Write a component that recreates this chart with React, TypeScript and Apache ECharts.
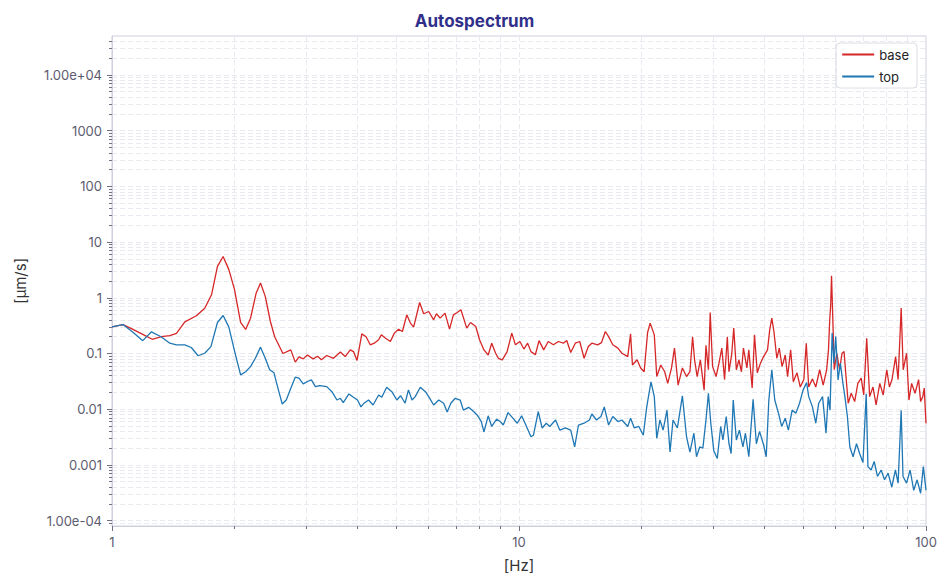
import React, { useEffect, useRef } from 'react';
import * as echarts from 'echarts';

// ---- data ----
const baseFreq = [
  1.0, 1.064, 1.126, 1.19, 1.256, 1.322, 1.387, 1.44, 1.51, 1.612, 1.69, 1.756, 1.816, 1.875, 1.937, 2.0,
  2.07, 2.13, 2.19, 2.26, 2.317, 2.38, 2.45, 2.51, 2.63, 2.75, 2.82, 2.88, 2.95, 3.02, 3.12, 3.2, 3.27,
  3.37, 3.5, 3.64, 3.74, 3.85, 3.92, 4.0, 4.11, 4.21, 4.31, 4.41, 4.52, 4.59, 4.7, 4.83, 4.94, 5.06, 5.17,
  5.3, 5.41, 5.51, 5.7, 5.83, 6.0, 6.17, 6.27, 6.4, 6.58, 6.75, 6.9, 7.05, 7.2, 7.44, 7.6, 7.83, 8.0, 8.2,
  8.4, 8.57, 8.76, 8.9, 9.1, 9.35, 9.6, 9.8, 10.05, 10.28, 10.5, 10.7, 10.97, 11.2, 11.5, 11.8, 12.15,
  12.5, 12.85, 13.1, 13.4, 13.75, 14.1, 14.45, 14.8, 15.1, 15.6, 15.95, 16.3, 16.6, 17.0, 17.5, 17.9,
  18.5, 18.8, 19.0, 19.5, 19.9, 20.3, 20.7, 21.0, 21.5, 21.8, 22.3, 22.8, 23.2, 23.7, 24.1, 24.6, 25.2,
  25.8, 26.3, 26.7, 27.0, 27.4, 27.9, 28.5, 28.8, 29.2, 29.5, 29.9, 30.5, 31.0, 31.5, 32.0, 32.2, 32.5,
  32.8, 33.3, 33.7, 34.2, 34.7, 35.2, 35.6, 36.3, 36.7, 37.4, 37.9, 38.5, 39.2, 39.9, 40.8, 41.3, 41.8,
  42.3, 43.0, 43.6, 44.3, 45.1, 45.7, 46.5, 47.2, 48.2, 49.1, 50.1, 50.8, 51.5, 52.6, 53.6, 54.8, 55.9,
  57.0, 57.6, 58.0, 58.3, 58.6, 59.0, 59.5, 60.4, 61.3, 62.2, 62.9, 63.6, 64.4, 65.5, 66.8, 68.0, 69.3,
  70.3, 71.5, 72.7, 74.1, 75.4, 77.0, 78.5, 80.1, 81.3, 82.5, 84.2, 85.4, 86.9, 87.9, 89.6, 90.8, 92.2,
  94.0, 95.9, 97.0, 98.2, 99.0, 100.0,
];
const baseVal = [
  0.3, 0.33, 0.27, 0.22, 0.18, 0.2, 0.21, 0.23, 0.37, 0.475, 0.65, 1.13, 3.66, 5.5, 3.2, 1.4,
  0.36, 0.27, 0.43, 1.21, 1.84, 1.06, 0.375, 0.2, 0.1, 0.116, 0.07, 0.087, 0.08, 0.094, 0.08, 0.089, 0.077,
  0.092, 0.082, 0.106, 0.088, 0.116, 0.108, 0.075, 0.225, 0.2, 0.143, 0.153, 0.176, 0.216, 0.188, 0.164, 0.232, 0.273, 0.248,
  0.494, 0.351, 0.297, 0.823, 0.516, 0.567, 0.402, 0.516, 0.431, 0.53, 0.273, 0.494, 0.545, 0.608, 0.285, 0.36, 0.305, 0.176, 0.116,
  0.094, 0.153, 0.101, 0.082, 0.077, 0.108, 0.232, 0.143, 0.164, 0.12, 0.153, 0.108, 0.095, 0.17, 0.116, 0.164, 0.143,
  0.164, 0.153, 0.171, 0.104, 0.153, 0.164, 0.082, 0.133, 0.153, 0.143, 0.157, 0.248, 0.201, 0.143, 0.125, 0.101,
  0.088, 0.225, 0.062, 0.077, 0.055, 0.047, 0.238, 0.351, 0.216, 0.0385, 0.062, 0.047, 0.029, 0.055, 0.125, 0.027, 0.055,
  0.0385, 0.047, 0.2, 0.077, 0.0385, 0.077, 0.022, 0.14, 0.051, 0.545, 0.058, 0.0385, 0.067, 0.125, 0.034, 0.071, 0.2,
  0.047, 0.094, 0.285, 0.051, 0.077, 0.047, 0.125, 0.055, 0.116, 0.024, 0.216, 0.045, 0.067, 0.088, 0.116, 0.266, 0.43,
  0.248, 0.082, 0.125, 0.058, 0.094, 0.0385, 0.116, 0.031, 0.045, 0.025, 0.034, 0.153, 0.025, 0.035, 0.025, 0.051, 0.027,
  0.051, 0.116, 0.4, 0.7, 2.49, 0.46, 0.051, 0.101, 0.051, 0.101, 0.108, 0.0385, 0.0128, 0.0193, 0.0137, 0.029, 0.036,
  0.018, 0.188, 0.0168, 0.025, 0.0119, 0.029, 0.018, 0.051, 0.025, 0.034, 0.088, 0.034, 0.653, 0.051, 0.101, 0.0146, 0.029,
  0.0193, 0.034, 0.0137, 0.0168, 0.024, 0.0056,
];
const topFreq = [
  1.0, 1.064, 1.126, 1.19, 1.25, 1.32, 1.387, 1.44, 1.51, 1.566, 1.628, 1.69, 1.75, 1.816, 1.875, 1.937, 1.997,
  2.07, 2.13, 2.19, 2.25, 2.317, 2.38, 2.44, 2.5, 2.57, 2.62, 2.68, 2.75, 2.82, 2.88, 2.95, 3.02, 3.09, 3.16, 3.24,
  3.37, 3.47, 3.57, 3.64, 3.7, 3.82, 3.92, 4.01, 4.09, 4.16, 4.27, 4.38, 4.52, 4.6, 4.73, 4.87, 5.01, 5.12, 5.25,
  5.35, 5.46, 5.56, 5.72, 5.89, 6.0, 6.17, 6.35, 6.53, 6.66, 6.8, 6.97, 7.17, 7.3, 7.52, 7.7, 7.9, 8.08, 8.2, 8.4,
  8.57, 8.81, 9.0, 9.15, 9.4, 9.66, 9.9, 10.15, 10.35, 10.7, 10.85, 11.15, 11.4, 11.67, 11.9, 12.3, 12.6, 13.0,
  13.4, 13.7, 14.0, 14.45, 14.9, 15.1, 15.5, 15.9, 16.2, 16.6, 17.0, 17.5, 17.9, 18.5, 18.8, 19.2, 19.7, 20.2,
  20.6, 21.1, 21.5, 21.8, 22.2, 22.6, 23.1, 23.5, 23.9, 24.5, 25.2, 25.8, 26.3, 26.9, 27.3, 27.8, 28.3, 28.8,
  29.2, 29.6, 30.1, 30.7, 31.3, 31.7, 32.3, 32.8, 33.2, 33.6, 34.2, 34.8, 35.5, 36.0, 36.7, 37.6, 38.3, 39.0,
  39.9, 40.5, 41.1, 41.8, 42.5, 43.4, 44.2, 45.1, 45.9, 46.9, 47.9, 48.9, 49.9, 50.9, 51.5, 52.6, 53.6, 54.5,
  55.7, 56.8, 57.5, 58.1, 58.8, 59.4, 60.0, 60.8, 61.6, 62.5, 63.2, 64.1, 65.0, 66.2, 67.5, 68.7, 70.0, 71.3,
  72.0, 73.3, 74.6, 76.0, 77.6, 79.1, 80.7, 82.4, 84.1, 85.4, 86.9, 87.8, 89.6, 91.4, 93.3, 95.1, 97.0, 98.5, 100.0,
];
const topVal = [
  0.3, 0.33, 0.24, 0.17, 0.245, 0.2, 0.153, 0.143, 0.143, 0.128, 0.091, 0.101, 0.133, 0.36, 0.48, 0.297, 0.116,
  0.0413, 0.047, 0.058, 0.082, 0.13, 0.082, 0.051, 0.045, 0.0206, 0.0124, 0.0146, 0.0237, 0.0375, 0.036, 0.0284, 0.0314, 0.0336, 0.0254, 0.0264,
  0.0254, 0.0206, 0.0146, 0.0157, 0.0131, 0.0188, 0.0164, 0.0146, 0.011, 0.0128, 0.0146, 0.0119, 0.018, 0.0164, 0.0248, 0.0206, 0.0146, 0.0174, 0.0128,
  0.0222, 0.0146, 0.0168, 0.0248, 0.0206, 0.0168, 0.0119, 0.0146, 0.0128, 0.0089, 0.0128, 0.0157, 0.0146, 0.0096, 0.0108, 0.0094, 0.0078, 0.006, 0.0039, 0.0076,
  0.0049, 0.0066, 0.006, 0.0052, 0.0087, 0.0069, 0.0056, 0.0076, 0.0056, 0.0032, 0.0034, 0.009, 0.0046, 0.0056, 0.0049, 0.0064, 0.0042, 0.0046,
  0.0042, 0.0021, 0.0052, 0.0056, 0.0064, 0.0082, 0.0064, 0.0074, 0.011, 0.0052, 0.0074, 0.006, 0.0064, 0.0049, 0.0069, 0.0046, 0.0049, 0.0034,
  0.011, 0.031, 0.0168, 0.003, 0.0064, 0.0042, 0.0096, 0.0017, 0.0064, 0.0046, 0.0174, 0.0032, 0.0017, 0.0037, 0.0014, 0.0021, 0.002, 0.0064,
  0.0193, 0.0056, 0.0018, 0.0013, 0.0049, 0.0028, 0.0074, 0.0024, 0.0016, 0.0146, 0.0028, 0.0042, 0.0021, 0.0037, 0.0014, 0.015, 0.0024, 0.004,
  0.0023, 0.0014, 0.0146, 0.051, 0.0146, 0.0085, 0.0049, 0.0069, 0.0042, 0.0096, 0.0085, 0.0128, 0.0222, 0.03, 0.0168, 0.011, 0.0056, 0.0128,
  0.0168, 0.0037, 0.0168, 0.0096, 0.232, 0.067, 0.201, 0.0336, 0.067, 0.0291, 0.0168, 0.0074, 0.0021, 0.0014, 0.0024, 0.0016, 0.0011, 0.019,
  0.00093, 0.00081, 0.00115, 0.00062, 0.00081, 0.00054, 0.00071, 0.0004, 0.00081, 0.00047, 0.0096, 0.00062, 0.00047, 0.00081, 0.00035, 0.00054, 0.00031, 0.00093, 0.00035,
];

const yMajorTicks = [1e-4, 0.001, 0.01, 0.1, 1, 10, 100, 1000, 1e4];
const yMinorTicks = [
  9e-5,
  2e-4, 3e-4, 4e-4, 5e-4, 6e-4, 7e-4, 8e-4, 9e-4,
  0.002, 0.003, 0.004, 0.005, 0.006, 0.007, 0.008, 0.009,
  0.02, 0.03, 0.04, 0.05, 0.06, 0.07, 0.08, 0.09,
  0.2, 0.3, 0.4, 0.5, 0.6, 0.7, 0.8, 0.9,
  2, 3, 4, 5, 6, 7, 8, 9,
  20, 30, 40, 50, 60, 70, 80, 90,
  200, 300, 400, 500, 600, 700, 800, 900,
  2000, 3000, 4000, 5000, 6000, 7000, 8000, 9000,
  20000, 30000, 40000,
];
const xMajorTicks = [1, 10, 100];
const xMinorTicks = [2, 3, 4, 5, 6, 7, 8, 9, 20, 30, 40, 50, 60, 70, 80, 90];

const Y_MIN = 8e-5;
const Y_MAX = 5e4;

function fmtY(v: number): string {
  const e = Math.round(Math.log10(v));
  if (e >= 4 || e <= -4) {
    const m = v / Math.pow(10, e);
    return `${m.toFixed(2)}e${e < 0 ? '-' : '+'}${String(Math.abs(e)).padStart(2, '0')}`;
  }
  return String(Number(v.toPrecision(6)));
}
function fmtX(v: number): string {
  return String(Number(v.toPrecision(6)));
}

const FONT = 'Inter, "Noto Sans", sans-serif';
const gridLine = { show: true, lineStyle: { color: '#e9e9f0', width: 1, type: [5, 3] as any } };
const tickColor = '#707080';
const axisColor = '#cfcfe0';

export default function App() {
  const ref = useRef<HTMLDivElement>(null);
  useEffect(() => {
    if (!ref.current) return;
    const chart = echarts.init(ref.current, undefined, { renderer: 'svg' });
    const baseData = baseFreq.map((f, i) => [f, baseVal[i]]);
    const topData = topFreq.map((f, i) => [f, topVal[i]]);
    chart.setOption({
      animation: false,
      backgroundColor: '#ffffff',
      textStyle: { fontFamily: FONT },
      title: {
        text: 'Autospectrum',
        left: 'center',
        top: 7,
        textStyle: { fontFamily: FONT, fontSize: 17, fontWeight: 'bold', color: '#30308a' },
      },
      legend: {
        orient: 'vertical',
        right: 32,
        top: 43,
        data: ['base', 'top'],
        itemWidth: 32,
        itemHeight: 14,
        itemGap: 9,
        padding: [5, 8, 5, 5],
        backgroundColor: '#ffffff',
        borderColor: '#dcdce6',
        borderWidth: 1,
        borderRadius: 4,
        itemStyle: { opacity: 0 },
        textStyle: { fontFamily: FONT, fontSize: 13, color: '#222' },
      },
      grid: {
        left: 112,
        right: 23,
        top: 36,
        bottom: 61,
        show: true,
        borderColor: axisColor,
        borderWidth: 1,
        backgroundColor: 'transparent',
      },
      xAxis: [
        {
          type: 'log',
          logBase: 10,
          min: 1,
          max: 100,
          position: 'bottom',
          name: '[Hz]',
          nameLocation: 'middle',
          nameGap: 32,
          nameTextStyle: { fontFamily: FONT, fontSize: 15, color: '#333' },
          axisLine: { show: true, lineStyle: { color: axisColor } },
          axisTick: { show: true, length: 5, customValues: xMajorTicks, lineStyle: { color: tickColor } },
          axisLabel: { customValues: xMajorTicks, formatter: fmtX, color: '#5c5c70', fontSize: 13, margin: 9 },
          splitLine: gridLine,
        },
        {
          type: 'log',
          logBase: 10,
          min: 1,
          max: 100,
          position: 'bottom',
          axisLine: { show: false },
          axisTick: { show: true, length: 3, customValues: xMinorTicks, lineStyle: { color: tickColor } },
          axisLabel: { show: false },
          splitLine: gridLine,
        },
      ],
      yAxis: [
        {
          type: 'log',
          logBase: 10,
          min: Y_MIN,
          max: Y_MAX,
          position: 'left',
          name: '[μm/s]',
          nameLocation: 'middle',
          nameGap: 84,
          nameRotate: 90,
          nameTextStyle: { fontFamily: FONT, fontSize: 15, color: '#333' },
          axisLine: { show: true, lineStyle: { color: axisColor } },
          axisTick: { show: true, length: 5, customValues: yMajorTicks, lineStyle: { color: tickColor } },
          axisLabel: { customValues: yMajorTicks, formatter: fmtY, color: '#5c5c70', fontSize: 13, margin: 10 },
          splitLine: gridLine,
        },
        {
          type: 'log',
          logBase: 10,
          min: Y_MIN,
          max: Y_MAX,
          position: 'left',
          axisLine: { show: false },
          axisTick: { show: true, length: 3, customValues: yMinorTicks, lineStyle: { color: tickColor } },
          axisLabel: { show: false },
          splitLine: gridLine,
        },
      ],
      series: [
        {
          name: 'base',
          type: 'line',
          xAxisIndex: 0,
          yAxisIndex: 0,
          data: baseData,
          symbol: 'none',
          showSymbol: false,
          lineStyle: { color: '#d62728', width: 1.3 },
          itemStyle: { color: '#d62728' },
          z: 3,
        },
        {
          name: 'top',
          type: 'line',
          xAxisIndex: 0,
          yAxisIndex: 0,
          data: topData,
          symbol: 'none',
          showSymbol: false,
          lineStyle: { color: '#1f77b4', width: 1.3 },
          itemStyle: { color: '#1f77b4' },
          z: 4,
        },
      ],
    });
    return () => chart.dispose();
  }, []);
  return (
    <div
      ref={ref}
      style={{ position: 'absolute', left: 0, top: 0, width: 949, height: 587 }}
    />
  );
}
